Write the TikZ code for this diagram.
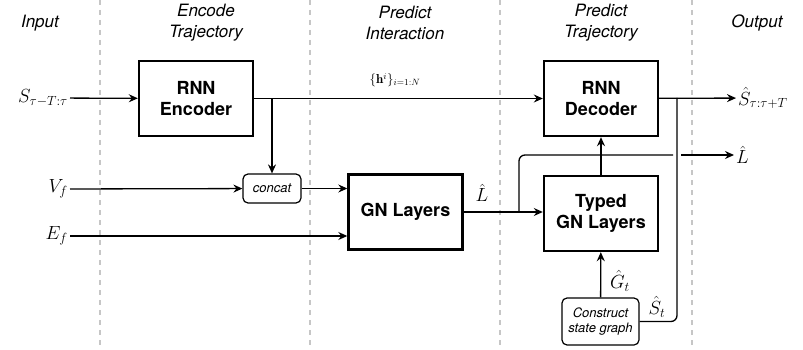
\documentclass[tikz,border=0pt]{standalone}
\usepackage{fix-cm}
\usepackage{amsmath}
\usepackage{amssymb}
\usepackage{fontspec}
\setsansfont{TeX Gyre Heros}
\usetikzlibrary{arrows.meta}

\begin{document}
\begin{tikzpicture}[x=1pt,y=-1pt,
  box/.style={draw,line width=2.4pt,minimum width=114pt,minimum height=75pt,align=center,
    font=\fontsize{18}{21}\selectfont\sffamily\bfseries},
  small/.style={draw,rounded corners=5pt,line width=1.2pt,align=center,inner sep=2pt,
    font=\fontsize{13}{15}\selectfont\sffamily\itshape},
  head/.style={align=center,font=\fontsize{17}{21}\selectfont\sffamily\itshape},
  lbl/.style={font=\fontsize{19}{22}\selectfont,inner sep=2pt},
  arr/.style={-{Stealth[length=9pt,width=8pt,inset=3pt]},line width=1.3pt},
  wire/.style={line width=1.3pt,rounded corners=6pt},
  sep/.style={gray!45,line width=1.2pt,dash pattern=on 5pt off 5pt}]
\useasboundingbox (0,0) rectangle (803,350);
\foreach \x in {100,310,500,692}
  \draw[sep] (\x,0) -- (\x,350);

\node[head] (hin) at (40,23) {Input};
\node[head] (henc) at (206,23) {Encode\\Trajectory};
\node[head] (hint) at (405,23) {Predict\\Interaction};
\node[head] (hpre) at (601,23) {Predict\\Trajectory};
\node[head] (hout) at (757,23) {Output};

\node[box] (enc) at (196,98.5) {RNN\\Encoder};
\node[box] (dec) at (601,98.5) {RNN\\Decoder};
\node[box] (gn) at (405.5,212) {GN Layers};
\node[box] (typ) at (601,213.5) {Typed\\GN Layers};
\node[small,minimum width=77pt,minimum height=47pt] (cst) at (600.5,321.5) {Construct\\state graph};
\node[small,minimum width=58pt,minimum height=29pt] (cat) at (272,188.5) {concat};

\node[lbl,anchor=east] (sin) at (70,98) {$S_{\tau-T:\tau}$};
\node[lbl,anchor=east] (vin) at (70,189) {$V_f$};
\node[lbl,anchor=east] (ein) at (70,236) {$E_f$};
\node[lbl,anchor=west] (sout) at (736,98) {$\hat{S}_{\tau:\tau+T}$};
\node[lbl,anchor=west] (lout) at (734,155) {$\hat{L}$};

\draw[arr] (sin) -- (enc);
\draw[arr] (enc) -- (dec);
\node[font=\fontsize{13}{15}\selectfont] (hlab) at (395,80) {$\{\mathbf{h}^i\}_{i=1:N}$};
\coordinate (b1) at (cat |- enc.east);
\draw[arr] (b1) -- (cat);
\draw[arr] (vin) -- (cat);
\draw[arr] (cat) -- (cat -| gn.west);
\draw[arr] (ein) -- (ein -| gn.west);

\draw[arr] (gn.east) -- (gn.east -| typ.west);
\node[lbl] (llab) at (482,193) {$\hat{L}$};
\coordinate (b2) at (519,212);
\coordinate (b3) at (519,155);
\coordinate (v1) at (677,98);
\draw[wire] (b2) -- (b3) -- ([xshift=-4pt]v1 |- b3);
\draw[arr] ([xshift=4pt]v1 |- b3) -- (lout);

\draw[arr] (dec) -- (sout);
\draw[arr] (typ) -- (dec);
\draw[arr] (cst) -- (typ);
\node[lbl] (glab) at (620,281) {$\hat{G}_t$};
\draw[wire] (cst.east) -- (cst.east -| v1) -- (v1);
\node[lbl] (stlab) at (657,307) {$\hat{S}_t$};
\end{tikzpicture}
\end{document}
